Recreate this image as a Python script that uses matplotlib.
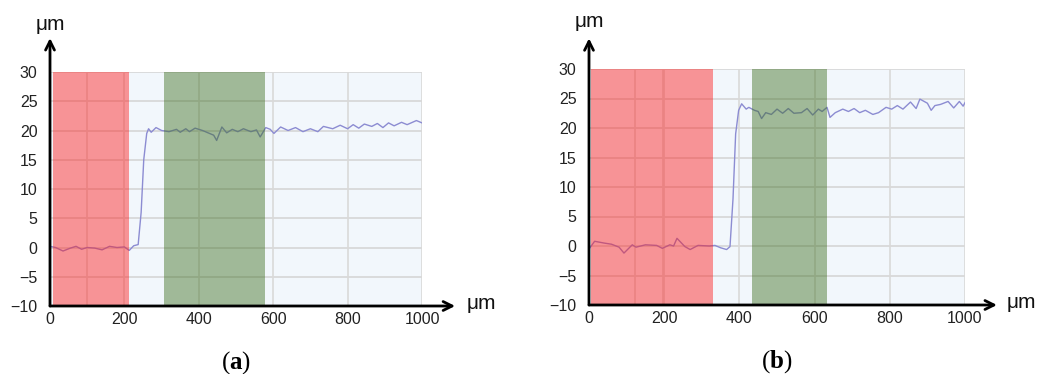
import numpy as np
import matplotlib
matplotlib.use("Agg")
import matplotlib.pyplot as plt

# profile (a)
xa = [0, 15, 35, 55, 70, 85, 100, 120, 140, 160, 180, 200, 213, 225, 237,
      245, 252, 260, 265, 272, 285, 300, 320, 340, 350, 365, 375, 390, 410,
      425, 440, 448, 462, 475, 490, 505, 520, 540, 555, 565, 580, 592, 602,
      620, 640, 660, 680, 700, 720, 735, 760, 780, 800, 815, 830, 845, 865,
      880, 895, 910, 925, 945, 960, 985, 1000]
ya = [0.2, 0.0, -0.6, -0.1, 0.2, -0.3, 0.0, -0.1, -0.4, 0.2, 0.0, 0.1, -0.5,
      0.3, 0.5, 6.0, 15.0, 19.5, 20.3, 19.7, 20.5, 20.0, 19.8, 20.2, 19.7,
      20.3, 19.8, 20.4, 20.0, 19.6, 19.2, 18.3, 20.6, 19.6, 20.2, 19.8, 20.3,
      19.8, 20.1, 18.9, 20.5, 20.2, 19.5, 20.6, 20.0, 20.5, 19.8, 20.3, 19.8,
      20.7, 20.3, 20.9, 20.3, 21.0, 20.4, 21.1, 20.7, 21.2, 20.5, 21.3, 20.8,
      21.4, 21.0, 21.7, 21.3]

# profile (b)
xb = [0, 15, 40, 60, 80, 93, 115, 125, 150, 180, 195, 215, 225, 234, 255,
      269, 290, 320, 335, 350, 366, 375, 383, 390, 398, 406, 418, 425, 440,
      450, 459, 470, 485, 500, 515, 530, 545, 565, 580, 595, 610, 620, 633,
      641, 655, 675, 690, 705, 720, 735, 755, 770, 790, 805, 820, 835, 855,
      870, 880, 900, 910, 920, 935, 955, 970, 985, 995, 1000]
yb = [-0.5, 0.8, 0.5, 0.3, -0.2, -1.2, 0.2, -0.2, 0.2, 0.1, -0.4, 0.2, 0.0,
      1.3, -0.1, -0.6, 0.1, 0.0, 0.1, -0.3, -0.6, -0.1, 8.0, 19.0, 23.0,
      24.1, 23.2, 23.5, 23.0, 22.8, 21.6, 22.6, 22.3, 23.2, 22.5, 23.3, 22.5,
      22.6, 23.3, 22.2, 23.2, 22.8, 23.5, 21.8, 22.6, 23.2, 22.8, 23.3, 22.6,
      23.0, 22.3, 22.6, 23.5, 23.2, 23.8, 23.2, 24.4, 23.3, 24.9, 24.2, 23.0,
      23.8, 24.0, 24.5, 23.4, 24.5, 23.7, 24.3]

red_a, green_a = (8, 212), (307, 578)
red_b, green_b = (4, 330), (433, 633)
extra_grid_a = [100]
extra_grid_b = [123, 196]

xticks = [0, 200, 400, 600, 800, 1000]
yticks = [-10, -5, 0, 5, 10, 15, 20, 25, 30]
ytick_labels = ["\u221210", "\u22125", "0", "5", "10", "15", "20", "25", "30"]

plt.rcParams['font.family'] = ['Liberation Sans', 'DejaVu Sans']
plt.rcParams['mathtext.fontset'] = 'custom'
plt.rcParams['mathtext.rm'] = 'Liberation Serif'
plt.rcParams['mathtext.bf'] = 'Liberation Serif:bold'

fig = plt.figure(figsize=(10.38, 3.74), dpi=100)
ax1 = fig.add_axes([50 / 1038, 68 / 374, 372 / 1038, 234 / 374])
ax2 = fig.add_axes([589 / 1038, 69 / 374, 376 / 1038, 236 / 374])


def draw(ax, x, y, red, green, extra, ytop_arrow, xend_arrow, ylab_y, xlab_x, tag):
    ax.set_facecolor('#f2f7fc')
    ax.set_xlim(0, 1000)
    ax.set_ylim(-10, 30)
    for s in ax.spines.values():
        s.set_visible(False)
    for v in yticks[1:]:
        ax.axhline(v, color='#d6d6d6', lw=1.2, zorder=1)
    for v in extra + xticks[1:]:
        ax.axvline(v, color='#d9d9d9', lw=1.2, zorder=1)
    ax.plot(x, y, color='#8c8cd2', lw=1.0, zorder=2)
    ax.axvspan(red[0], red[1], color='#ff1a1a', alpha=0.45, lw=0, zorder=3)
    ax.axvspan(green[0], green[1], color='#3c6e1e', alpha=0.45, lw=0, zorder=3)
    ax.set_xticks(xticks)
    ax.set_yticks(yticks)
    ax.set_yticklabels(ytick_labels)
    ax.tick_params(length=0, labelsize=11.5, colors='#222222')
    ax.tick_params(axis='y', pad=9)
    ax.tick_params(axis='x', pad=4)
    # axes with arrows
    ax.annotate('', xy=(0, ytop_arrow), xytext=(0, 0), xycoords='axes fraction',
                arrowprops=dict(arrowstyle='->', lw=2, color='black',
                                mutation_scale=16, shrinkA=0, shrinkB=0))
    ax.annotate('', xy=(xend_arrow, 0), xytext=(0, 0), xycoords='axes fraction',
                arrowprops=dict(arrowstyle='->', lw=2, color='black',
                                mutation_scale=16, shrinkA=0, shrinkB=0))
    ax.text(0, ylab_y, 'μm', transform=ax.transAxes, ha='center', va='center',
            fontsize=15, color='#111111')
    ax.text(xlab_x, 0.01, 'μm', transform=ax.transAxes, ha='left', va='center',
            fontsize=15, color='#111111')
    ax.text(0.5, -0.24, r'($\mathbf{' + tag + '}$)', transform=ax.transAxes,
            ha='center', va='center', fontsize=18, family='Liberation Serif')


draw(ax1, xa, ya, red_a, green_a, extra_grid_a, 1.145, 1.089, 1.205, 1.12, 'a')
draw(ax2, xb, yb, red_b, green_b, extra_grid_b, 1.13, 1.085, 1.20, 1.11, 'b')

fig.savefig('out.png', dpi=100)
